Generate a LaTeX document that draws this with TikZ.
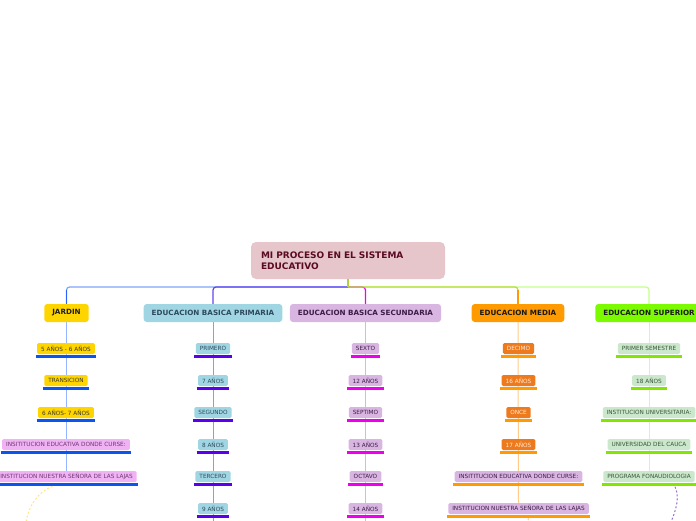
\documentclass[tikz,border=0pt]{standalone}
\usepackage{fontspec}
\setmainfont{DejaVu Sans}
\usetikzlibrary{backgrounds}
\definecolor{rootfill}{HTML}{E6C6CB}
\definecolor{rootink}{HTML}{5A0A22}
\definecolor{stemcol}{HTML}{B5D03A}
\definecolor{jgold}{HTML}{FFD500}
\definecolor{jink}{HTML}{3A3A2A}
\definecolor{jbar}{HTML}{0A55F0}
\definecolor{jvert}{HTML}{2A62FF}
\definecolor{jhor}{HTML}{7EA4FA}
\definecolor{jline}{HTML}{96B4FF}
\definecolor{jpinkfill}{HTML}{F0B2F5}
\definecolor{jpinkink}{HTML}{6A3A6A}
\definecolor{pfill}{HTML}{A0D6E3}
\definecolor{pinkt}{HTML}{2E4A5C}
\definecolor{pbar}{HTML}{5A00F0}
\definecolor{phor}{HTML}{6446F0}
\definecolor{pline}{HTML}{A88CF2}
\definecolor{sfill}{HTML}{D9B6E1}
\definecolor{sinkt}{HTML}{3C1C48}
\definecolor{sbar}{HTML}{EE00EE}
\definecolor{sline}{HTML}{F3A6F3}
\definecolor{mfill}{HTML}{FF9A00}
\definecolor{mkid}{HTML}{EE7A1E}
\definecolor{minkt}{HTML}{FFEBD8}
\definecolor{mbar}{HTML}{FF9A00}
\definecolor{mline}{HTML}{FFCB8A}
\definecolor{mhor}{HTML}{BCDC3C}
\definecolor{ufill}{HTML}{7CFA00}
\definecolor{ukid}{HTML}{CBE8CC}
\definecolor{uinkt}{HTML}{3A553A}
\definecolor{ubar}{HTML}{82E600}
\definecolor{uline}{HTML}{D6F5AE}
\definecolor{uhor}{HTML}{C3FF8A}
\definecolor{ydash}{HTML}{FFE680}
\definecolor{vdash}{HTML}{9A6ACC}
\tikzset{
  rootbox/.style={fill=rootfill, text=rootink, rounded corners=5pt, text width=174pt,
    inner xsep=10pt, inner ysep=0pt, minimum height=37pt, align=left,
    font=\bfseries\fontsize{9}{11.5}\selectfont},
  lvlone/.style={rounded corners=3pt, font=\bfseries\fontsize{7.2}{8}\selectfont,
    minimum height=18pt, inner xsep=8pt, inner ysep=0pt},
  kidbox/.style={rounded corners=1.5pt, font=\fontsize{5.75}{6}\selectfont,
    minimum height=11pt, inner xsep=4pt, inner ysep=0pt},
  kidbar/.style={line width=2.2pt},
  hubline/.style={line width=1.2pt, rounded corners=3pt},
  colline/.style={line width=1pt},
  dashline/.style={line width=1pt, dash pattern=on 2pt off 2pt}
}
\newcommand\mmkid[7]{%
  \node[kidbox, fill=#4, text=#5] (#1) at (#2,#3) {#7};
  \draw[kidbar, draw=#6] ([xshift=-1.2pt,yshift=-2.3pt]#1.south west) -- ([xshift=1.2pt,yshift=-2.3pt]#1.south east);
}
\begin{document}
\begin{tikzpicture}[x=1pt,y=-1pt]
\useasboundingbox (0,0) rectangle (696,520);
\clip (0,0) rectangle (696,520);

% root
\node[rootbox] (root) at (348,260.5) {MI PROCESO EN EL SISTEMA\\EDUCATIVO};
\coordinate (hub) at (348,287);

% level one
\node[lvlone, fill=jgold, text=black!88] (jardin) at (66.5,313) {JARDIN};
\node[lvlone, fill=pfill, text=pinkt] (primaria) at (213,313) {EDUCACION BASICA PRIMARIA};
\node[lvlone, fill=sfill, text=sinkt] (secundaria) at (365.5,313) {EDUCACION BASICA SECUNDARIA};
\node[lvlone, fill=mfill, text=black!90] (media) at (518,313) {EDUCACION MEDIA};
\node[lvlone, fill=ufill, text=black!90] (superior) at (649,313) {EDUCACION SUPERIOR};

% hub connectors
\draw[hubline, jhor] (hub) -| (jardin.north);
\draw[line width=1.2pt, jvert] ([yshift=-3pt]jardin.north |- hub) -- (jardin.north);
\draw[hubline, phor] (hub) -| (primaria.north);
\draw[hubline, uhor] (hub) -| (superior.north);
\draw[hubline, sbar] (hub) -| (secundaria.north);
\draw[hubline, mhor] (hub) -| (media.north);
\draw[line width=1.2pt, mbar] ([yshift=-3pt]media.north |- hub) -- (media.north);
\draw[line width=1.2pt, stemcol] (root.south) -- (hub);

% jardin children
\mmkid{j1}{66}{348.5}{jgold}{jink}{jbar}{5 AÑOS - 6 AÑOS}
\mmkid{j2}{66}{380.5}{jgold}{jink}{jbar}{TRANSICION}
\mmkid{j3}{66}{412.5}{jgold}{jink}{jbar}{6 AÑOS- 7 AÑOS}
\mmkid{j4}{66}{444.5}{jpinkfill}{jpinkink}{jbar}{INSITITUCION EDUCATIVA DONDE CURSE:}
\mmkid{j5}{66.5}{476.5}{jpinkfill}{jpinkink}{jbar}{INSTITUCION NUESTRA SEÑORA DE LAS LAJAS}

% primaria children
\mmkid{p1}{213}{348.5}{pfill}{pinkt}{pbar}{PRIMERO}
\mmkid{p2}{213}{380.5}{pfill}{pinkt}{pbar}{7 AÑOS}
\mmkid{p3}{213}{412.5}{pfill}{pinkt}{pbar}{SEGUNDO}
\mmkid{p4}{213}{444.5}{pfill}{pinkt}{pbar}{8 AÑOS}
\mmkid{p5}{213}{476.5}{pfill}{pinkt}{pbar}{TERCERO}
\mmkid{p6}{213}{508.5}{pfill}{pinkt}{pbar}{9 AÑOS}

% secundaria children
\mmkid{s1}{365.5}{348.5}{sfill}{sinkt}{sbar}{SEXTO}
\mmkid{s2}{365.5}{380.5}{sfill}{sinkt}{sbar}{12 AÑOS}
\mmkid{s3}{365.5}{412.5}{sfill}{sinkt}{sbar}{SEPTIMO}
\mmkid{s4}{365.5}{444.5}{sfill}{sinkt}{sbar}{13 AÑOS}
\mmkid{s5}{365.5}{476.5}{sfill}{sinkt}{sbar}{OCTAVO}
\mmkid{s6}{365.5}{508.5}{sfill}{sinkt}{sbar}{14 AÑOS}

% media children
\mmkid{m1}{518.5}{348.5}{mkid}{minkt}{mbar}{DECIMO}
\mmkid{m2}{518.5}{380.5}{mkid}{minkt}{mbar}{16 AÑOS}
\mmkid{m3}{518.5}{412.5}{mkid}{minkt}{mbar}{ONCE}
\mmkid{m4}{518.5}{444.5}{mkid}{minkt}{mbar}{17 AÑOS}
\mmkid{m5}{518.5}{476.5}{sfill}{sinkt}{mbar}{INSITITUCION EDUCATIVA DONDE CURSE:}
\mmkid{m6}{518.5}{508.5}{sfill}{sinkt}{mbar}{INSTITUCION NUESTRA SEÑORA DE LAS LAJAS}

% superior children
\mmkid{u1}{649}{348.5}{ukid}{uinkt}{ubar}{PRIMER SEMESTRE}
\mmkid{u2}{649}{380.5}{ukid}{uinkt}{ubar}{18 AÑOS}
\mmkid{u3}{649}{412.5}{ukid}{uinkt}{ubar}{INSTITUCION UNIVERSITARIA:}
\mmkid{u4}{649}{444.5}{ukid}{uinkt}{ubar}{UNIVERSIDAD DEL CAUCA}
\mmkid{u5}{649}{476.5}{ukid}{uinkt}{ubar}{PROGRAMA FONAUDIOLOGIA}

% column lines
\coordinate (pend) at (213,525);
\coordinate (send) at (365.5,525);
\begin{scope}[on background layer]
\draw[colline, jline] (jardin.south) -- (j5.north);
\draw[colline, pline] (primaria.south) -- (pend);
\draw[colline, sline] (secundaria.south) -- (send);
\draw[colline, mline] (media.south) -- (m6.north);
\draw[colline, uline] (superior.south) -- (u5.north);
\end{scope}

% relationship lines (dashed)
\coordinate (yend) at (26,522);
\coordinate (vend) at (671,522);
\coordinate (oend) at (527,525);
\draw[dashline, ydash] ([xshift=-14pt,yshift=-4pt]j5.south) .. controls (38,492) and (29,505) .. (yend);
\draw[dashline, vdash] ([xshift=26pt,yshift=-4.5pt]u5.south) .. controls (680,497) and (676,510) .. (vend);
\draw[dashline, mline] ([xshift=10pt,yshift=-4pt]m6.south) -- (oend);
\end{tikzpicture}
\end{document}
